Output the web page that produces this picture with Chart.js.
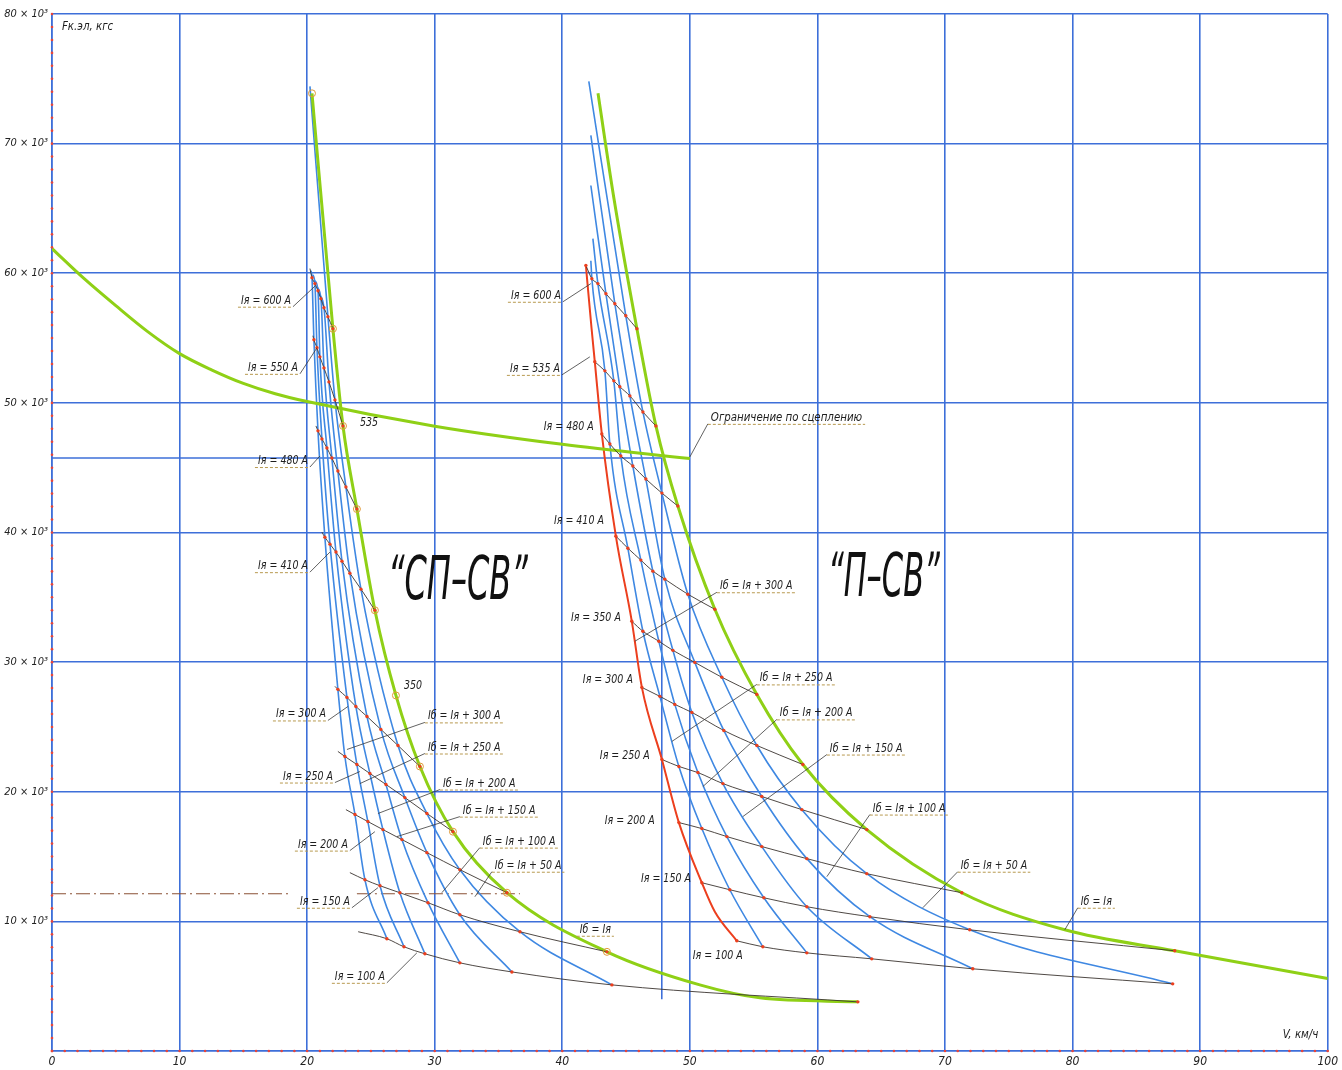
<!DOCTYPE html>
<html>
<head>
<meta charset="utf-8">
<script src="https://cdn.jsdelivr.net/npm/chart.js@4.4.1/dist/chart.umd.min.js"></script>
<style>
  html, body { margin: 0; padding: 0; background: #fff; }
  #wrap { width: 1342px; height: 1070px; }
</style>
</head>
<body>
<div id="wrap"><canvas id="chart"></canvas></div>
<script>
// V, км/ч on x ; Fк.эл in 10³ кгс on y
const xTicks = [0, 10, 20, 30, 40, 50, 60, 70, 80, 90, 100];
const yTicks = [0, 10, 20, 30, 40, 50, 60, 70, 80];

// ---- "СП-СВ" ----
const spIa = [600, 550, 480, 410, 300, 250, 200, 150, 100];
const spField = ['Iб = Iя + 300 A', 'Iб = Iя + 250 A', 'Iб = Iя + 200 A', 'Iб = Iя + 150 A',
                 'Iб = Iя + 100 A', 'Iб = Iя + 50 A', 'Iб = Iя'];
// speed of each field curve (columns = spField) at each Iя row
const spV = [
  [20.38, 20.61, 20.85, 21.08, 21.32, 21.63, 22.02],
  [20.53, 20.77, 21.00, 21.32, 21.71, 22.18, 22.81],
  [20.85, 21.16, 21.55, 21.94, 22.41, 23.04, 23.90],
  [21.39, 21.79, 22.26, 22.73, 23.35, 24.22, 25.31],
  [22.41, 23.12, 23.82, 24.69, 25.78, 27.12, 28.84],
  [22.96, 23.90, 24.92, 26.18, 27.66, 29.39, 31.43],
  [23.75, 24.76, 25.94, 27.43, 29.39, 31.97, 35.66],
  [24.53, 25.71, 27.27, 29.47, 31.97, 36.68, 43.50],
  [26.25, 27.59, 29.23, 31.97, 36.05, 43.89, 63.17]
];
const spF = [
  [59.66, 59.20, 58.65, 58.04, 57.34, 56.65, 55.72],
  [54.87, 54.25, 53.55, 52.70, 51.62, 50.23, 48.22],
  [47.84, 47.22, 46.52, 45.75, 44.75, 43.51, 41.81],
  [39.64, 39.10, 38.49, 37.79, 36.86, 35.63, 34.00],
  [27.90, 27.28, 26.58, 25.81, 24.81, 23.57, 21.95],
  [22.72, 22.10, 21.41, 20.56, 19.55, 18.32, 16.92],
  [18.24, 17.70, 17.08, 16.31, 15.30, 13.99, 12.21],
  [13.21, 12.75, 12.21, 11.44, 10.51, 9.20, 7.65],
  [8.66, 8.04, 7.50, 6.80, 6.10, 5.10, 3.79]
];
const spIaStart = [[20.22, 60.36], [20.45, 55.18], [20.69, 48.22], [21.16, 40.03], [22.18, 28.13],
                   [22.41, 23.11], [23.04, 18.62], [23.35, 13.76], [24.00, 9.20]];
const spTop = [[20.30, 60.20], [20.45, 59.89], [20.61, 59.43], [20.77, 58.96], [20.92, 58.42], [20.22, 74.42]];
const spGreen = [[20.38, 73.88], [22.02, 55.72], [22.81, 48.22], [23.90, 41.81], [25.31, 34.00], [26.96, 27.43],
                 [28.84, 21.95], [31.43, 16.92], [35.66, 12.21], [43.50, 7.65], [50.78, 5.10], [55.49, 4.10], [63.17, 3.79]];
const spMarks = [[20.38, 73.88], [22.02, 55.72], [22.81, 48.22], [23.90, 41.81], [25.31, 34.00], [26.96, 27.43],
                 [28.84, 21.95], [31.43, 16.92], [35.66, 12.21], [43.50, 7.65]];

// ---- "П-СВ" ----
const ppIa = [600, 535, 480, 410, 350, 300, 250, 200, 150, 100];
const ppField = ['Iб = Iя + 300 A', 'Iб = Iя + 250 A', 'Iб = Iя + 200 A', 'Iб = Iя + 150 A',
                 'Iб = Iя + 100 A', 'Iб = Iя + 50 A', 'Iб = Iя'];
const ppV = [
  [41.85, 42.32, 42.79, 43.42, 44.12, 44.98, 45.85],
  [42.55, 43.34, 44.04, 44.51, 45.30, 46.32, 47.34],
  [43.10, 43.73, 44.59, 45.53, 46.55, 47.81, 49.06],
  [44.20, 45.14, 46.16, 47.10, 48.04, 49.84, 51.96],
  [45.45, 46.32, 47.57, 48.67, 50.39, 52.51, 55.25],
  [46.24, 47.65, 48.82, 50.16, 52.66, 55.25, 58.86],
  [47.81, 49.14, 50.63, 52.59, 55.64, 58.78, 63.87],
  [49.14, 50.94, 52.90, 55.64, 59.17, 63.87, 71.32],
  [50.94, 53.13, 55.80, 59.17, 64.11, 71.94, 88.01],
  [53.68, 55.72, 59.17, 64.26, 72.18, 87.85, null]
];
const ppF = [
  [60.60, 59.58, 59.20, 58.42, 57.65, 56.72, 55.72],
  [53.17, 52.47, 51.70, 51.24, 50.54, 49.30, 48.22],
  [47.60, 46.83, 45.90, 45.13, 44.13, 43.04, 42.04],
  [39.72, 38.79, 37.87, 37.02, 36.40, 35.24, 34.08],
  [33.15, 32.38, 31.61, 30.91, 29.98, 28.83, 27.51],
  [28.05, 27.36, 26.74, 26.12, 24.73, 23.57, 22.10],
  [22.49, 21.95, 21.48, 20.63, 19.63, 18.62, 17.08],
  [17.62, 17.16, 16.54, 15.77, 14.84, 13.68, 12.21],
  [12.98, 12.44, 11.82, 11.13, 10.36, 9.35, 7.73],
  [8.50, 8.04, 7.57, 7.11, 6.34, 5.18, null]
];
const ppTop = [[42.24, 60.97], [42.40, 62.67], [42.24, 66.77], [42.24, 70.63], [42.08, 74.81]];
const ppRed = [[41.85, 60.60], [42.30, 55.70], [42.55, 53.17], [43.10, 47.60], [44.20, 39.72], [45.45, 33.15],
               [46.24, 28.05], [47.81, 22.49], [49.14, 17.62], [50.94, 12.98], [51.96, 10.74], [53.68, 8.50]];
const ppGreen = [[42.80, 73.88], [44.05, 65.77], [45.85, 55.72], [47.34, 48.22], [49.06, 42.04], [51.96, 34.08],
                 [55.25, 27.51], [58.86, 22.10], [63.87, 17.08], [71.32, 12.21], [79.39, 9.35], [88.01, 7.73], [100, 5.60]];

// ограничение по сцеплению
const adhV = [0, 2.5, 5, 7.5, 10, 12.5, 15, 17.5, 20, 30, 40, 50];
const adhF = [61.9, 59.6, 57.5, 55.5, 53.8, 52.55, 51.5, 50.7, 50.1, 48.2, 46.8, 45.7];
const limitV = 47.8, limitF = 45.75, limitLow = 4.0;
const dashF = 12.13;
const dashRuns = [[0, 18.5], [23.9, 36.68]];

const FONT = "'Liberation Sans Narrow','DejaVu Sans Condensed','Liberation Sans',sans-serif";
const GRID = '#3d6fd9';
const BLUE = '#3f88e2';
const GREEN = '#8fd016';
const RED = '#ec3f1e';
const DARK = '#3b3430';

const pt = p => ({ x: p[0], y: p[1] });

function curve(data, color, width, order) {
  return { data: data, showLine: true, borderColor: color, borderWidth: width, pointRadius: 0,
           cubicInterpolationMode: 'monotone', order: order };
}

const datasets = [];

// Iя = const lines, with red dots where they cross the field curves
spIa.forEach(function(ia, r) {
  const d = [pt(spIaStart[r])].concat(spV[r].map((v, k) => ({ x: v, y: spF[r][k] })));
  const ds = curve(d, DARK, 0.9, 1);
  ds.pointRadius = c => c.dataIndex === 0 ? 0 : 1.7;
  ds.pointBackgroundColor = RED;
  ds.pointBorderWidth = 0;
  datasets.push(ds);
});
ppIa.forEach(function(ia, r) {
  const d = ppV[r].map((v, k) => v === null ? null : { x: v, y: ppF[r][k] }).filter(Boolean);
  const ds = curve(d, DARK, 0.9, 1);
  ds.pointRadius = 1.7;
  ds.pointBackgroundColor = RED;
  ds.pointBorderWidth = 0;
  datasets.push(ds);
});

// circles on the СП-СВ envelope
datasets.push({ data: spMarks.map(pt), showLine: false, pointRadius: 3.5, pointBorderColor: '#e09a3a',
                pointBackgroundColor: 'rgba(0,0,0,0)', pointBorderWidth: 1, order: 0 });

// envelopes and the adhesion limit
datasets.push(curve(spGreen.map(pt), GREEN, 3, 2));
datasets.push(curve(ppGreen.map(pt), GREEN, 3, 2));
datasets.push(curve(adhV.map((v, i) => ({ x: v, y: adhF[i] })), GREEN, 3, 2));
datasets.push(curve(ppRed.map(pt), RED, 2, 3));

// field curves
for (let k = 0; k < 6; k++) {
  const d = [pt(spTop[k])].concat(spIa.map((_, r) => ({ x: spV[r][k], y: spF[r][k] })));
  datasets.push(curve(d, BLUE, 1.6, 4));
}
for (let k = 1; k < 6; k++) {
  const d = [pt(ppTop[k - 1])].concat(ppIa.map((_, r) => ({ x: ppV[r][k], y: ppF[r][k] })));
  datasets.push(curve(d, BLUE, 1.6, 4));
}

// limit construction lines
const straight = (data, color, width, dash) => ({ data: data, showLine: true, borderColor: color, borderWidth: width,
                                                  borderDash: dash || [], pointRadius: 0, order: 5 });
datasets.push(straight([{ x: 0, y: limitF }, { x: limitV, y: limitF }], GRID, 1.6));
datasets.push(straight([{ x: limitV, y: limitF }, { x: limitV, y: limitLow }], GRID, 1.6));
dashRuns.forEach(function(run) {
  datasets.push(straight([{ x: run[0], y: dashF }, { x: run[1], y: dashF }], '#8a5236', 1.2, [14, 4, 2, 4]));
});

// red minor marks along the axes
const axisDots = {
  id: 'axisDots',
  afterDraw(chart) {
    const { ctx, scales: { x, y }, chartArea: a } = chart;
    ctx.save();
    ctx.fillStyle = '#e8453a';
    for (let v = 0; v <= 100; v++) {
      ctx.beginPath(); ctx.arc(x.getPixelForValue(v), a.bottom, 1.3, 0, Math.PI * 2); ctx.fill();
    }
    for (let f = 0; f <= 80; f++) {
      ctx.beginPath(); ctx.arc(a.left, y.getPixelForValue(f), 1.3, 0, Math.PI * 2); ctx.fill();
    }
    ctx.restore();
  }
};

// text annotations: [underline end v, F, leader end v, F]
const spIaPos = [[18.89, 57.42, 20.61, 59.0], [19.44, 52.24, 20.77, 54.25], [20.22, 45.05, 21.0, 45.9],
                 [20.22, 36.94, 21.79, 38.49], [21.63, 25.5, 23.2, 26.58], [22.18, 20.71, 24.14, 21.56],
                 [23.35, 15.46, 25.31, 16.92], [23.51, 11.05, 25.55, 12.6], [26.25, 5.26, 28.6, 7.57]];
const spFieldPos = [[29.23, 25.35, 23.12, 23.26], [29.23, 22.95, 24.14, 20.63], [30.41, 20.17, 25.55, 18.32],
                    [31.97, 18.08, 27.04, 16.54], [33.54, 15.69, 30.56, 12.21], [34.48, 13.83, 33.15, 11.9],
                    [41.14, 8.89]];
const ppIaPos = [[40.05, 57.8, 42.24, 59.2], [39.97, 52.16, 42.16, 53.55], [42.63, 47.68], [43.42, 40.42],
                 [44.75, 32.92], [45.69, 28.13], [47.02, 22.33], [47.41, 17.31], [50.24, 12.83], [54.31, 6.88]];
const ppFieldPos = [[52.12, 35.39, 45.69, 31.61], [55.25, 28.28, 48.59, 23.88], [56.82, 25.58, 51.02, 20.4],
                    [60.74, 22.87, 54.15, 18.08], [64.11, 18.24, 60.74, 13.45], [71.0, 13.83, 68.26, 11.05],
                    [80.41, 11.05, 79.39, 9.35]];

const notes = {
  id: 'notes',
  afterDatasetsDraw(chart) {
    const { ctx, scales: { x, y } } = chart;
    const X = v => x.getPixelForValue(v), Y = f => y.getPixelForValue(f);
    ctx.save();
    ctx.font = 'italic 13px ' + FONT;
    const k = 50 / ctx.measureText('Iя = 600 A').width;

    function text(t, px, py, sx) {
      ctx.save(); ctx.translate(px, py); ctx.scale(sx, 1); ctx.fillText(t, 0, 0); ctx.restore();
    }
    // side 'L': text left of the leader point, 'R': text right of it
    function label(t, p, side, sx) {
      const s = sx || k;
      const w = ctx.measureText(t).width * s;
      const px = X(p[0]), py = Y(p[1]);
      const hasLeader = p.length > 2;
      ctx.fillStyle = '#1e1e1e';
      text(t, side === 'L' ? px - w - 2 : px + 3, py - 3, s);
      if (!hasLeader && side === 'L') return;
      ctx.strokeStyle = '#b89a50'; ctx.lineWidth = 1; ctx.setLineDash([3, 2]);
      ctx.beginPath();
      if (side === 'L') { ctx.moveTo(px - w - 5, py + 0.5); ctx.lineTo(px, py + 0.5); }
      else { ctx.moveTo(px, py + 0.5); ctx.lineTo(px + w + 6, py + 0.5); }
      ctx.stroke();
      ctx.setLineDash([]);
      if (hasLeader) {
        ctx.strokeStyle = '#3a3a3a'; ctx.lineWidth = 0.8;
        ctx.beginPath(); ctx.moveTo(px, py); ctx.lineTo(X(p[2]), Y(p[3])); ctx.stroke();
      }
    }

    spIa.forEach((ia, i) => label('Iя = ' + ia + ' A', spIaPos[i], 'L'));
    spField.forEach((t, i) => label(t, spFieldPos[i], 'R'));
    ppIa.forEach((ia, i) => label('Iя = ' + ia + ' A', ppIaPos[i], 'L'));
    ppField.forEach((t, i) => label(t, ppFieldPos[i], 'R'));
    label('Ограничение по сцеплению', [51.41, 48.38, 50.0, 45.83], 'R', k * 1.08);

    ctx.fillStyle = '#1e1e1e';
    text('535', X(24.14), Y(48.22), k);
    text('350', X(27.59), Y(27.9), k);

    ctx.font = 'italic 12px ' + FONT;
    text('Fк.эл, кгс', X(0.78), Y(78.75), 0.95);
    text('V, км/ч', X(96.47), Y(1.0), 0.95);

    // mode titles, squeezed to the drawn width
    ctx.font = 'italic 60px ' + FONT;
    [['“СП–СВ”', 26.33, 34.85, 10.97], ['“П–СВ”', 60.82, 35.09, 8.78]].forEach(function(m) {
      const w = ctx.measureText(m[0]).width;
      const target = X(m[1] + m[3]) - X(m[1]);
      ctx.fillStyle = '#111';
      text(m[0], X(m[1]), Y(m[2]), target / w);
    });
    ctx.restore();
  }
};

const tickFont = { family: FONT, style: 'italic', size: 12 };

new Chart(document.getElementById('chart'), {
  type: 'scatter',
  data: { datasets: datasets },
  options: {
    responsive: true,
    maintainAspectRatio: false,
    animation: false,
    layout: { padding: { top: 14, right: 14, left: 0, bottom: 0 } },
    plugins: { legend: { display: false }, tooltip: { enabled: false } },
    scales: {
      x: {
        type: 'linear', min: 0, max: 100,
        afterBuildTicks: s => { s.ticks = xTicks.map(v => ({ value: v })); },
        ticks: { font: tickFont, color: '#222', padding: 4, maxRotation: 0, autoSkip: false },
        grid: { color: GRID, lineWidth: 1.6, drawTicks: false },
        border: { color: GRID, width: 1.6 },
        afterFit: s => { s.height = 19; }
      },
      y: {
        type: 'linear', min: 0, max: 80,
        afterBuildTicks: s => { s.ticks = yTicks.map(v => ({ value: v })); },
        ticks: { font: { family: FONT, style: 'italic', size: 11 }, color: '#222', padding: 4,
                 callback: v => v ? v + ' × 10³' : '' },
        grid: { color: GRID, lineWidth: 1.6, drawTicks: false },
        border: { color: GRID, width: 1.6 },
        afterFit: s => { s.width = 52; }
      }
    }
  },
  plugins: [axisDots, notes]
});
</script>
</body>
</html>
